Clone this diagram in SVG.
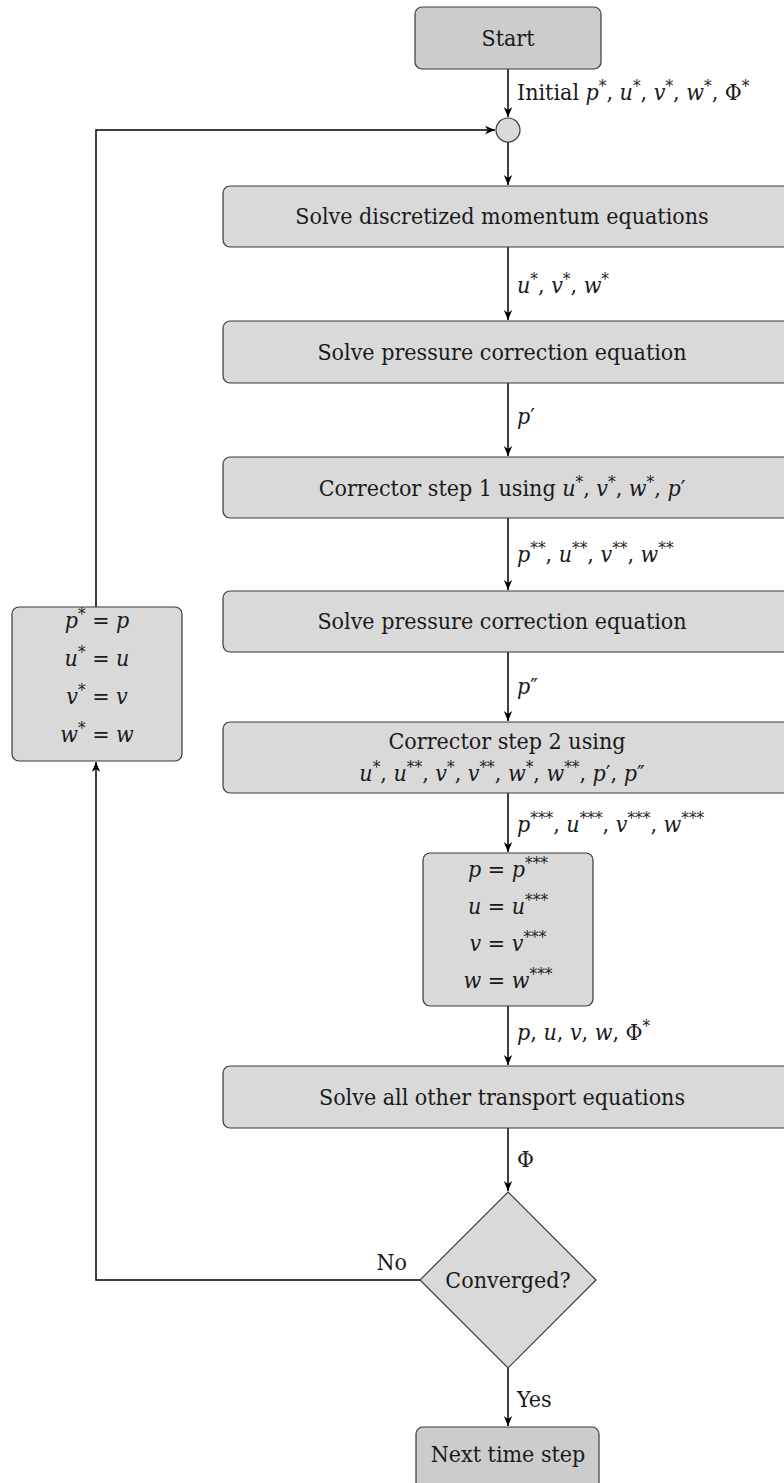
<svg xmlns="http://www.w3.org/2000/svg" width="784" height="1483" viewBox="0 0 784 1483">
<defs>
<marker id="arr" markerUnits="userSpaceOnUse" markerWidth="12" markerHeight="10" viewBox="-10 -5 12 10" refX="0" refY="0" orient="auto">
<path d="M0,0 L-10,-4.2 L-7,0 L-10,4.2 Z" fill="#000"/>
</marker>
</defs>
<style>
text{font-family:'DejaVu Serif Condensed','DejaVu Serif',serif;font-size:23px;fill:#1a1a1a}
.c{text-anchor:middle}
.i{font-style:italic}
.s{font-size:17px}
.box{fill:#d9d9d9;stroke:#3a3a3a;stroke-width:1.2}
.term{fill:#cccccc;stroke:#3a3a3a;stroke-width:1.2}
.edge{fill:none;stroke:#000;stroke-width:1.5;marker-end:url(#arr)}
</style>
<rect width="784" height="1483" fill="#fff"/>

<g id="connectors">
<path class="edge" d="M508,69 V117"/>
<path class="edge" d="M508,142 V185"/>
<path class="edge" d="M508,247 V320"/>
<path class="edge" d="M508,383 V456"/>
<path class="edge" d="M508,518 V590"/>
<path class="edge" d="M508,652 V721"/>
<path class="edge" d="M508,793 V852"/>
<path class="edge" d="M508,1006 V1065"/>
<path class="edge" d="M508,1128 V1191"/>
<path class="edge" d="M508,1368 V1426"/>
<path class="edge" d="M96,607 V130 H495"/>
<path class="edge" d="M420,1280 H96 V762"/>
</g>

<g id="labels">
<text x="517" y="100">Initial <tspan class="i">p</tspan><tspan class="s" dy="-8">*</tspan><tspan dy="8">, </tspan><tspan class="i">u</tspan><tspan class="s" dy="-8">*</tspan><tspan dy="8">, </tspan><tspan class="i">v</tspan><tspan class="s" dy="-8">*</tspan><tspan dy="8">, </tspan><tspan class="i">w</tspan><tspan class="s" dy="-8">*</tspan><tspan dy="8">, Φ</tspan><tspan class="s" dy="-8">*</tspan></text>
<text x="517" y="293"><tspan class="i">u</tspan><tspan class="s" dy="-8">*</tspan><tspan dy="8">, </tspan><tspan class="i">v</tspan><tspan class="s" dy="-8">*</tspan><tspan dy="8">, </tspan><tspan class="i">w</tspan><tspan class="s" dy="-8">*</tspan></text>
<text x="517" y="424"><tspan class="i">p</tspan><tspan>′</tspan></text>
<text x="517" y="562"><tspan class="i">p</tspan><tspan class="s" dy="-8">**</tspan><tspan dy="8">, </tspan><tspan class="i">u</tspan><tspan class="s" dy="-8">**</tspan><tspan dy="8">, </tspan><tspan class="i">v</tspan><tspan class="s" dy="-8">**</tspan><tspan dy="8">, </tspan><tspan class="i">w</tspan><tspan class="s" dy="-8">**</tspan></text>
<text x="517" y="694"><tspan class="i">p</tspan><tspan>″</tspan></text>
<text x="517" y="832"><tspan class="i">p</tspan><tspan class="s" dy="-8">***</tspan><tspan dy="8">, </tspan><tspan class="i">u</tspan><tspan class="s" dy="-8">***</tspan><tspan dy="8">, </tspan><tspan class="i">v</tspan><tspan class="s" dy="-8">***</tspan><tspan dy="8">, </tspan><tspan class="i">w</tspan><tspan class="s" dy="-8">***</tspan></text>
<text x="517" y="1040"><tspan class="i">p</tspan><tspan>, </tspan><tspan class="i">u</tspan><tspan>, </tspan><tspan class="i">v</tspan><tspan>, </tspan><tspan class="i">w</tspan><tspan>, Φ</tspan><tspan class="s" dy="-8">*</tspan></text>
<text x="517" y="1167">Φ</text>
<text x="407" y="1270" text-anchor="end">No</text>
<text x="517" y="1407">Yes</text>
</g>

<g id="start">
<rect class="term" x="415" y="7" width="186" height="62" rx="7"/>
<text class="c" x="508" y="46">Start</text>
</g>

<g id="merge">
<circle class="box" cx="508" cy="130" r="12"/>
</g>

<g id="momentum">
<rect class="box" x="223" y="186" width="600" height="61" rx="7"/>
<text class="c" x="502" y="224">Solve discretized momentum equations</text>
</g>

<g id="pressure1">
<rect class="box" x="223" y="321" width="600" height="62" rx="7"/>
<text class="c" x="502" y="360">Solve pressure correction equation</text>
</g>

<g id="corrector1">
<rect class="box" x="223" y="457" width="600" height="61" rx="7"/>
<text class="c" x="502" y="496">Corrector step 1 using <tspan class="i">u</tspan><tspan class="s" dy="-8">*</tspan><tspan dy="8">, </tspan><tspan class="i">v</tspan><tspan class="s" dy="-8">*</tspan><tspan dy="8">, </tspan><tspan class="i">w</tspan><tspan class="s" dy="-8">*</tspan><tspan dy="8">, </tspan><tspan class="i">p</tspan><tspan>′</tspan></text>
</g>

<g id="pressure2">
<rect class="box" x="223" y="591" width="600" height="61" rx="7"/>
<text class="c" x="502" y="629">Solve pressure correction equation</text>
</g>

<g id="corrector2">
<rect class="box" x="223" y="722" width="600" height="71" rx="7"/>
<text class="c" x="507" y="749">Corrector step 2 using</text>
<text class="c" x="502" y="781"><tspan class="i">u</tspan><tspan class="s" dy="-8">*</tspan><tspan dy="8">, </tspan><tspan class="i">u</tspan><tspan class="s" dy="-8">**</tspan><tspan dy="8">, </tspan><tspan class="i">v</tspan><tspan class="s" dy="-8">*</tspan><tspan dy="8">, </tspan><tspan class="i">v</tspan><tspan class="s" dy="-8">**</tspan><tspan dy="8">, </tspan><tspan class="i">w</tspan><tspan class="s" dy="-8">*</tspan><tspan dy="8">, </tspan><tspan class="i">w</tspan><tspan class="s" dy="-8">**</tspan><tspan dy="8">, </tspan><tspan class="i">p</tspan><tspan>′, </tspan><tspan class="i">p</tspan><tspan>″</tspan></text>
</g>

<g id="update">
<rect class="box" x="423" y="853" width="170" height="153" rx="7"/>
<text class="c" x="508" y="877"><tspan class="i">p</tspan><tspan> = </tspan><tspan class="i">p</tspan><tspan class="s" dy="-8">***</tspan></text>
<text class="c" x="508" y="914"><tspan class="i">u</tspan><tspan> = </tspan><tspan class="i">u</tspan><tspan class="s" dy="-8">***</tspan></text>
<text class="c" x="508" y="951"><tspan class="i">v</tspan><tspan> = </tspan><tspan class="i">v</tspan><tspan class="s" dy="-8">***</tspan></text>
<text class="c" x="508" y="988"><tspan class="i">w</tspan><tspan> = </tspan><tspan class="i">w</tspan><tspan class="s" dy="-8">***</tspan></text>
</g>

<g id="transport">
<rect class="box" x="223" y="1066" width="600" height="62" rx="7"/>
<text class="c" x="502" y="1105">Solve all other transport equations</text>
</g>

<g id="converged">
<polygon class="box" points="508,1192 596,1280 508,1368 420,1280"/>
<text class="c" x="508" y="1288">Converged?</text>
</g>

<g id="next">
<rect class="term" x="416" y="1427" width="183" height="70" rx="7"/>
<text class="c" x="508" y="1462">Next time step</text>
</g>

<g id="reset">
<rect class="box" x="12" y="607" width="170" height="154" rx="7"/>
<text class="c" x="97" y="628"><tspan class="i">p</tspan><tspan class="s" dy="-8">*</tspan><tspan dy="8"> = </tspan><tspan class="i">p</tspan></text>
<text class="c" x="97" y="666"><tspan class="i">u</tspan><tspan class="s" dy="-8">*</tspan><tspan dy="8"> = </tspan><tspan class="i">u</tspan></text>
<text class="c" x="97" y="704"><tspan class="i">v</tspan><tspan class="s" dy="-8">*</tspan><tspan dy="8"> = </tspan><tspan class="i">v</tspan></text>
<text class="c" x="97" y="742"><tspan class="i">w</tspan><tspan class="s" dy="-8">*</tspan><tspan dy="8"> = </tspan><tspan class="i">w</tspan></text>
</g>
</svg>
